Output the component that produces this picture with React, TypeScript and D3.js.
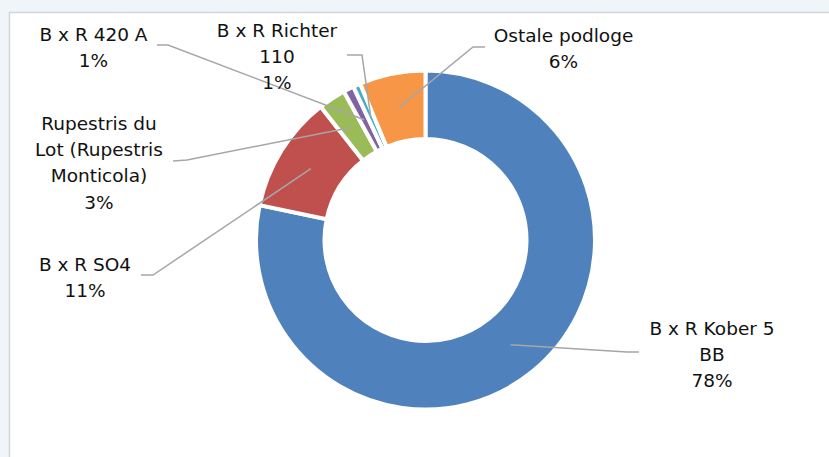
import React from "react";
import * as d3 from "d3";

const categories = [
  "B x R Kober 5 BB",
  "B x R SO4",
  "Rupestris du Lot (Rupestris Monticola)",
  "B x R 420 A",
  "B x R Richter 110",
  "Ostale podloge",
];
const values = [78.3, 11.1, 2.6, 1.0, 0.7, 6.3];
const percentLabels = ["78%", "11%", "3%", "1%", "1%", "6%"];
const labelLines = [
  ["B x R Kober 5", "BB"],
  ["B x R SO4"],
  ["Rupestris du", "Lot (Rupestris", "Monticola)"],
  ["B x R 420 A"],
  ["B x R Richter", "110"],
  ["Ostale podloge"],
];
const colors = ["#4F81BD", "#C0504D", "#9BBB59", "#8064A2", "#4BACC6", "#F79646"];

// layout: label text center & first baseline, leader elbow points
const labelLayout = [
  { x: 712, y: 335, elbow: [[639, 352], [627, 352]] },
  { x: 85, y: 271, elbow: [[141, 275], [153, 275]] },
  { x: 99, y: 130, elbow: [[173, 161], [187, 160]] },
  { x: 93.5, y: 41, elbow: [[157, 45], [168, 45]] },
  { x: 277, y: 37, elbow: [[347, 55], [362, 55]] },
  { x: 563.5, y: 42, elbow: [[485, 47], [473, 47]] },
];

const W = 829;
const H = 457;
const cx = 425.5;
const cy = 240;
const outerR = 169.5;
const innerR = 101;
const lineH = 26.2;

export default function App() {
  const pie = d3.pie<number>().sort(null).value((d) => d)(values);
  const arc = d3.arc<d3.PieArcDatum<number>>().innerRadius(innerR).outerRadius(outerR);
  const midArc = d3.arc<d3.PieArcDatum<number>>().innerRadius(135).outerRadius(135);
  const line = d3.line();

  return (
    <svg
      width={W}
      height={H}
      style={{ position: "absolute", left: 0, top: 0 }}
      fontFamily="'DejaVu Sans', Verdana, sans-serif"
    >
      <rect x={0} y={0} width={W} height={H} fill="#F0F5F9" />
      <rect x={9.5} y={12.5} width={W + 20} height={H + 20} fill="#FFFFFF" stroke="#D6D6D6" strokeWidth={1.5} />
      <g transform={`translate(${cx},${cy})`}>
        {pie.map((p, i) => (
          <path key={categories[i]} d={arc(p) || ""} fill={colors[i]} stroke="#FFFFFF" strokeWidth={4} strokeLinejoin="miter" />
        ))}
      </g>
      {pie.map((p, i) => {
        const [mx, my] = midArc.centroid(p);
        const L = labelLayout[i];
        const pts: [number, number][] = [
          [L.elbow[0][0], L.elbow[0][1]],
          [L.elbow[1][0], L.elbow[1][1]],
          [cx + mx, cy + my],
        ];
        return (
          <path key={"l" + i} d={line(pts) || ""} fill="none" stroke="#A6A6A6" strokeWidth={1.5} />
        );
      })}
      {labelLines.map((lines, i) => {
        const L = labelLayout[i];
        const all = [...lines, percentLabels[i]];
        return (
          <text key={"t" + i} x={L.x} y={L.y} textAnchor="middle" fontSize={18.5} fill="#111111">
            {all.map((s, j) => (
              <tspan key={j} x={L.x} y={L.y + j * lineH}>
                {s}
              </tspan>
            ))}
          </text>
        );
      })}
    </svg>
  );
}
